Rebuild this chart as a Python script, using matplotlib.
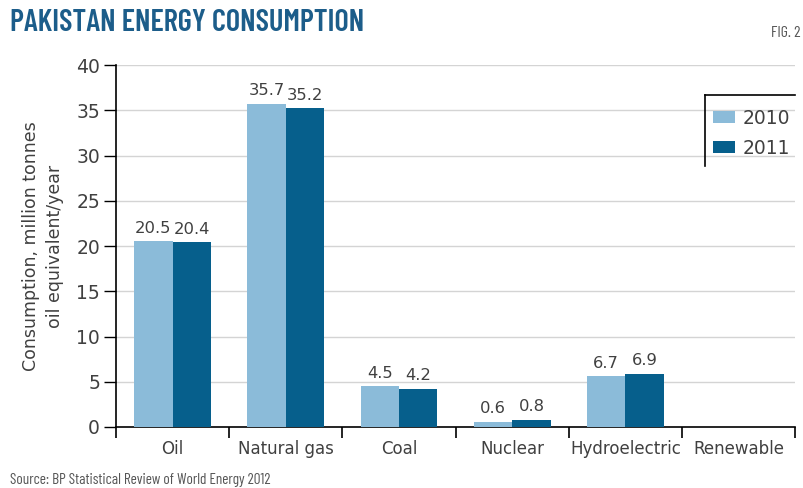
import matplotlib
matplotlib.use("Agg")
from matplotlib import pyplot as plt
from matplotlib.lines import Line2D
import numpy as np

categories = ["Oil", "Natural gas", "Coal", "Nuclear", "Hydroelectric", "Renewable"]
# bar heights as drawn in the source figure (hydro bars are drawn short there)
heights_2010 = [20.5, 35.7, 4.5, 0.6, 5.6, 0]
heights_2011 = [20.4, 35.2, 4.2, 0.8, 5.9, 0]
labels_2010 = ["20.5", "35.7", "4.5", "0.6", "6.7", ""]
labels_2011 = ["20.4", "35.2", "4.2", "0.8", "6.9", ""]
yticks = [0, 5, 10, 15, 20, 25, 30, 35, 40]

color_2010 = "#8bbbd9"
color_2011 = "#065f8c"
title_color = "#1c5d8a"
text_color = "#404040"
narrow = ["Barlow Condensed", "Liberation Sans Narrow", "DejaVu Sans"]

fig = plt.figure(figsize=(8.04, 4.88), dpi=100)
ax = fig.add_axes([0.1443, 0.125, 0.8447, 0.7418])

x = np.arange(len(categories))
w = 0.34
bars_a = ax.bar(x - w / 2, heights_2010, w, color=color_2010, label="2010", zorder=3)
bars_b = ax.bar(x + w / 2, heights_2011, w, color=color_2011, label="2011", zorder=3)

# value labels on top of the bars
for bars, labels in [(bars_a, labels_2010), (bars_b, labels_2011)]:
    for rect, lab in zip(bars, labels):
        if lab:
            ax.annotate(lab, (rect.get_x() + rect.get_width() / 2, rect.get_height()),
                        xytext=(0, 4), textcoords="offset points", ha="center", va="bottom",
                        fontsize=11.8, color=text_color)

ax.set_xlim(-0.5, len(categories) - 0.5)
ax.set_ylim(0, 40)

# horizontal grid
for yv in yticks[1:]:
    ax.axhline(yv, color="#d4d4d4", lw=1, zorder=1)

ax.set_yticks(yticks)
ax.tick_params(axis="y", direction="out", length=8.5, width=1, labelsize=13.5,
               labelcolor=text_color, pad=3)

# separators between categories as major ticks, names as minor ticks
ax.set_xticks(np.arange(-0.5, len(categories), 1.0))
ax.set_xticklabels([])
ax.set_xticks(x, minor=True)
ax.set_xticklabels(categories, minor=True)
ax.tick_params(axis="x", which="major", direction="out", length=8, width=1.2)
ax.tick_params(axis="x", which="minor", length=0, labelsize=12, labelcolor=text_color, pad=9)

for side in ["top", "right"]:
    ax.spines[side].set_visible(False)
ax.spines["left"].set_linewidth(1.2)
ax.spines["bottom"].set_linewidth(1.2)

ax.set_ylabel("Consumption, million tonnes\noil equivalent/year", fontsize=12.5,
              color=text_color, labelpad=9, linespacing=1.4)

# legend with only top and left border
fig.legend(handles=[bars_a, bars_b], labels=["2010", "2011"], loc="upper left",
           bbox_to_anchor=(709 / 804, 1 - 105 / 488), frameon=False, fontsize=13.5,
           handlelength=1.2, handleheight=0.6, handletextpad=0.4, labelspacing=0.6,
           borderaxespad=0, borderpad=0.2, labelcolor=text_color)
fig.add_artist(Line2D([705 / 804, 795 / 804], [1 - 95 / 488, 1 - 95 / 488],
                      color="black", lw=1.2, transform=fig.transFigure))
fig.add_artist(Line2D([705 / 804, 705 / 804], [1 - 95 / 488, 1 - 166 / 488],
                      color="black", lw=1.2, transform=fig.transFigure))

fig.text(10 / 804, 1 - 23 / 488, "PAKISTAN ENERGY CONSUMPTION", fontsize=22,
         fontweight="semibold", family=narrow, color=title_color, va="center", ha="left")
fig.text(801 / 804, 1 - 33 / 488, "FIG. 2", fontsize=11.5, family=narrow,
         color="#555555", va="center", ha="right")
fig.text(10 / 804, 1 - 480 / 488, "Source: BP Statistical Review of World Energy 2012",
         fontsize=11, family=narrow, color="#555555", va="center", ha="left")

fig.savefig("out.png", dpi=100)
